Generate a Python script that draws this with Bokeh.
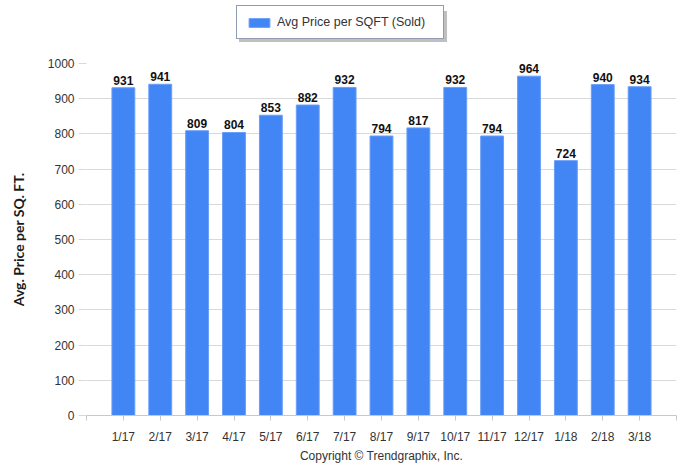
from bokeh.plotting import figure
from bokeh.layouts import column
from bokeh.models import (FixedTicker, Range1d, Legend, LegendItem, ColumnDataSource, Title)
from bokeh.embed import file_html
from bokeh.resources import INLINE
from bokeh.core.properties import value

months = ["1/17", "2/17", "3/17", "4/17", "5/17", "6/17", "7/17", "8/17",
          "9/17", "10/17", "11/17", "12/17", "1/18", "2/18", "3/18"]
price = [931, 941, 809, 804, 853, 882, 932, 794, 817, 932, 794, 964, 724, 940, 934]
y_ticks = [0, 100, 200, 300, 400, 500, 600, 700, 800, 900, 1000]
series_name = "Avg Price per SQFT (Sold)"
y_title = "Avg. Price per SQ. FT."
copyright_text = "Copyright \u00a9 Trendgraphix, Inc."

xpos = list(range(1, len(months) + 1))
src = ColumnDataSource(dict(x=xpos, price=price, label=[str(v) for v in price]))

FONT = "Liberation Sans"
GRID = "#d9d9d9"
BAR = "#4285f4"
BAR_LINE = "#6a9ef6"

W = 695
LH = 48          # legend strip height
H = 422          # main chart height
FRAME_LEFT = 86  # column aligns both frames to this left edge

# ---------- legend strip (its bars sit outside its visible y range) ----------
lf = figure(width=W, height=LH, output_backend="svg", toolbar_location=None,
            x_axis_type=None, y_axis_type=None, min_border=0,
            x_range=Range1d(0, len(months) + 1), y_range=Range1d(2000, 3000))
lf.outline_line_color = None
lf.grid.visible = False
swatch = lf.vbar(x="x", top="price", width=0.62, source=src,
                 fill_color=BAR, line_color=BAR_LINE)

def make_legend(loc, shadow):
    lg = Legend(items=[LegendItem(label=" " if shadow else series_name,
                                  renderers=[swatch], index=0)],
                location=loc, orientation="horizontal",
                padding=9, margin=0, spacing=0,
                glyph_width=26, glyph_height=11, label_standoff=5,
                label_width=157,
                label_text_font=FONT, label_text_font_size="12.5px",
                label_text_color="#333333", label_height=11)
    if shadow:
        lg.background_fill_color = "#bdbdbd"
        lg.border_line_color = "#bdbdbd"
    else:
        lg.background_fill_color = "white"
        lg.background_fill_alpha = 1
        lg.border_line_color = "#223a66"
        lg.border_line_width = 1.5
    return lg

lf.add_layout(make_legend((236 - FRAME_LEFT + 3, LH - 42), True), "center")
lf.add_layout(make_legend((236 - FRAME_LEFT, LH - 39), False), "center")

# ---------- main chart ----------
top_b = 63 - LH
bot_b = H - (415 - LH)
p = figure(width=W, height=H, output_backend="svg", toolbar_location=None,
           x_range=Range1d(0, len(months) + 1), y_range=Range1d(0, 1000),
           min_border_left=FRAME_LEFT, min_border_right=W - 676, min_border_top=top_b,
           min_border_bottom=bot_b,
           background_fill_color="white", border_fill_color="white")
p.outline_line_color = None

bars = p.vbar(x="x", top="price", width=0.62, source=src,
              fill_color=BAR, line_color=BAR_LINE, line_width=1)

p.text(x="x", y="price", text="label", source=src, text_align="center",
       text_baseline="bottom", y_offset=-3, text_font=value(FONT),
       text_font_size="12px", text_font_style="bold", text_color="#111111")

# x axis
xa = p.xaxis[0]
xa.ticker = FixedTicker(ticks=list(range(0, len(months) + 2)))
overrides = {i + 1: m for i, m in enumerate(months)}
overrides[0] = ""
overrides[len(months) + 1] = ""
xa.major_label_overrides = overrides
xa.axis_line_color = "#c8c8c8"
xa.major_tick_line_color = "#c8c8c8"
xa.major_tick_out = 5
xa.major_tick_in = 0
xa.minor_tick_line_color = None
xa.major_label_text_font = FONT
xa.major_label_text_font_size = "12px"
xa.major_label_text_color = "#333333"
xa.major_label_standoff = 9
p.xgrid.grid_line_color = None

# y axis
ya = p.yaxis[0]
ya.ticker = FixedTicker(ticks=y_ticks)
ya.axis_line_color = None
ya.major_tick_line_color = GRID
ya.major_tick_out = 8
ya.major_tick_in = 0
ya.minor_tick_line_color = None
ya.major_label_text_font = FONT
ya.major_label_text_font_size = "12px"
ya.major_label_text_color = "#333333"
ya.major_label_standoff = 4
ya.axis_label = y_title
ya.axis_label_text_font = "Lato"
ya.axis_label_text_font_style = "bold"
ya.axis_label_text_font_size = "14px"
ya.axis_label_text_color = "#1a1a1a"
ya.axis_label_standoff = 18
p.ygrid.ticker = FixedTicker(ticks=y_ticks)
p.ygrid.grid_line_color = GRID
p.ygrid.grid_line_width = 1

p.add_layout(Title(text=copyright_text, align="center", text_font=FONT,
                   text_font_size="12px", text_font_style="normal",
                   text_color="#333333", standoff=0), "below")

layout = column(lf, p, spacing=0)
open("out.html", "w").write(file_html(layout, INLINE))
